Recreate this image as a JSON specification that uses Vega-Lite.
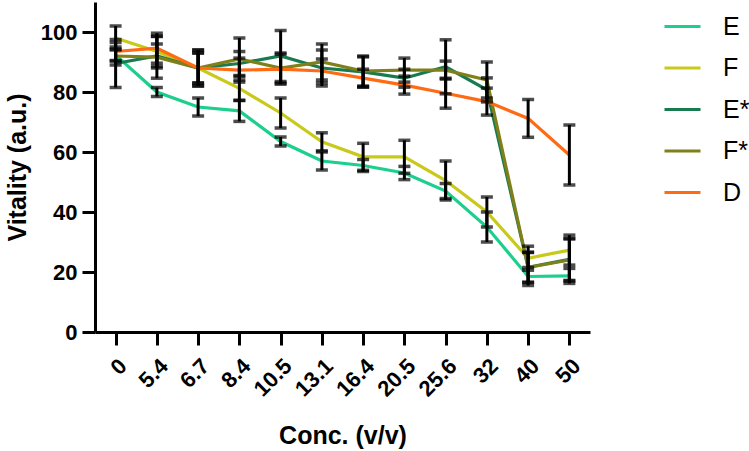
{
  "$schema": "https://vega.github.io/schema/vega-lite/v6.json",
  "width": 495,
  "height": 330,
  "autosize": "none",
  "padding": {"left": 95, "top": 2, "right": 159, "bottom": 119},
  "background": "white",
  "data": {
    "values": [
      {"conc": "0", "series": "E", "v": 92.3, "err": 2},
      {"conc": "5.4", "series": "E", "v": 80, "err": 1.5},
      {"conc": "6.7", "series": "E", "v": 75, "err": 3},
      {"conc": "8.4", "series": "E", "v": 73.7, "err": 3.5},
      {"conc": "10.5", "series": "E", "v": 63.5, "err": 1.5},
      {"conc": "13.1", "series": "E", "v": 57, "err": 3},
      {"conc": "16.4", "series": "E", "v": 55.5, "err": 2},
      {"conc": "20.5", "series": "E", "v": 53, "err": 2.2},
      {"conc": "25.6", "series": "E", "v": 47, "err": 2.5},
      {"conc": "32", "series": "E", "v": 35, "err": 5},
      {"conc": "40", "series": "E", "v": 18.5, "err": 3},
      {"conc": "50", "series": "E", "v": 18.7, "err": 2.5},
      {"conc": "0", "series": "F", "v": 98, "err": 4},
      {"conc": "5.4", "series": "F", "v": 93.5, "err": 5},
      {"conc": "6.7", "series": "F", "v": 88, "err": 5},
      {"conc": "8.4", "series": "F", "v": 81.2, "err": 4},
      {"conc": "10.5", "series": "F", "v": 73, "err": 5},
      {"conc": "13.1", "series": "F", "v": 63.4, "err": 3},
      {"conc": "16.4", "series": "F", "v": 58.4, "err": 4.5},
      {"conc": "20.5", "series": "F", "v": 58.4, "err": 5.5},
      {"conc": "25.6", "series": "F", "v": 50.5, "err": 6.5},
      {"conc": "32", "series": "F", "v": 40, "err": 5},
      {"conc": "40", "series": "F", "v": 24.6, "err": 4},
      {"conc": "50", "series": "F", "v": 27.3, "err": 5},
      {"conc": "0", "series": "E*", "v": 89.5, "err": 8},
      {"conc": "5.4", "series": "E*", "v": 92, "err": 4},
      {"conc": "6.7", "series": "E*", "v": 88, "err": 6},
      {"conc": "8.4", "series": "E*", "v": 89.5, "err": 4},
      {"conc": "10.5", "series": "E*", "v": 92, "err": 8.5},
      {"conc": "13.1", "series": "E*", "v": 88, "err": 6},
      {"conc": "16.4", "series": "E*", "v": 86.7, "err": 5},
      {"conc": "20.5", "series": "E*", "v": 84.6, "err": 3},
      {"conc": "25.6", "series": "E*", "v": 88.4, "err": 9},
      {"conc": "32", "series": "E*", "v": 80.7, "err": 4},
      {"conc": "40", "series": "E*", "v": 21.6, "err": 5},
      {"conc": "50", "series": "E*", "v": 24.2, "err": 7},
      {"conc": "0", "series": "F*", "v": 92, "err": 3},
      {"conc": "5.4", "series": "F*", "v": 91.6, "err": 7},
      {"conc": "6.7", "series": "F*", "v": 88, "err": 5},
      {"conc": "8.4", "series": "F*", "v": 91, "err": 7},
      {"conc": "10.5", "series": "F*", "v": 88, "err": 5},
      {"conc": "13.1", "series": "F*", "v": 90, "err": 6},
      {"conc": "16.4", "series": "F*", "v": 87, "err": 5},
      {"conc": "20.5", "series": "F*", "v": 87.3, "err": 4},
      {"conc": "25.6", "series": "F*", "v": 87.3, "err": 3},
      {"conc": "32", "series": "F*", "v": 84, "err": 6},
      {"conc": "40", "series": "F*", "v": 21.5, "err": 5},
      {"conc": "50", "series": "F*", "v": 24, "err": 7},
      {"conc": "0", "series": "D", "v": 93.5, "err": 3},
      {"conc": "5.4", "series": "D", "v": 94.6, "err": 5},
      {"conc": "6.7", "series": "D", "v": 88, "err": 6},
      {"conc": "8.4", "series": "D", "v": 87.3, "err": 4},
      {"conc": "10.5", "series": "D", "v": 87.6, "err": 5},
      {"conc": "13.1", "series": "D", "v": 87, "err": 4},
      {"conc": "16.4", "series": "D", "v": 84.6, "err": 3},
      {"conc": "20.5", "series": "D", "v": 82.3, "err": 3},
      {"conc": "25.6", "series": "D", "v": 79.6, "err": 5},
      {"conc": "32", "series": "D", "v": 76.8, "err": 4.5},
      {"conc": "40", "series": "D", "v": 71.2, "err": 6.3},
      {"conc": "50", "series": "D", "v": 59, "err": 10}
    ]
  },
  "encoding": {
    "x": {
      "field": "conc",
      "type": "ordinal",
      "title": "Conc. (v/v)",
      "scale": {
        "type": "point",
        "padding": 0.5,
        "domain": ["0", "5.4", "6.7", "8.4", "10.5", "13.1", "16.4", "20.5", "25.6", "32", "40", "50"]
      },
      "axis": {
        "labelAngle": -45,
        "labelPadding": 10,
        "titlePadding": 23
      }
    },
    "y": {
      "field": "v",
      "type": "quantitative",
      "title": "Vitality (a.u.)",
      "scale": {"domain": [0, 110], "nice": false},
      "axis": {"values": [0, 20, 40, 60, 80, 100], "labelPadding": 5, "titlePadding": 10}
    }
  },
  "layer": [
    {
      "mark": {"type": "line", "strokeWidth": 3.2},
      "encoding": {
        "color": {
          "field": "series",
          "type": "nominal",
          "title": null,
          "scale": {
            "domain": ["E", "F", "E*", "F*", "D"],
            "range": ["#1ccf8d", "#c9c91c", "#187a4f", "#80801a", "#ff6a14"]
          },
          "legend": {
            "orient": "none",
            "legendX": 568,
            "legendY": 5,
            "symbolType": "stroke",
            "symbolSize": 1296,
            "symbolStrokeWidth": 3,
            "labelFontSize": 25,
            "labelFont": "Liberation Sans",
            "labelColor": "black",
            "labelOffset": 21,
            "rowPadding": 8.5,
            "padding": 0
          }
        }
      }
    },
    {
      "mark": {
        "type": "errorbar",
        "color": "black",
        "ticks": {"size": 12, "thickness": 3.5, "color": "black"},
        "rule": {"strokeWidth": 3, "color": "black"}
      },
      "encoding": {
        "yError": {"field": "err"}
      }
    }
  ],
  "config": {
    "view": {"stroke": null},
    "axis": {
      "grid": false,
      "domainColor": "black",
      "domainWidth": 3,
      "tickColor": "black",
      "tickWidth": 3,
      "tickSize": 13,
      "labelColor": "black",
      "labelFont": "Liberation Sans",
      "labelFontSize": 22,
      "labelFontWeight": "bold",
      "titleColor": "black",
      "titleFont": "Liberation Sans",
      "titleFontSize": 25,
      "titleFontWeight": "bold"
    }
  }
}
